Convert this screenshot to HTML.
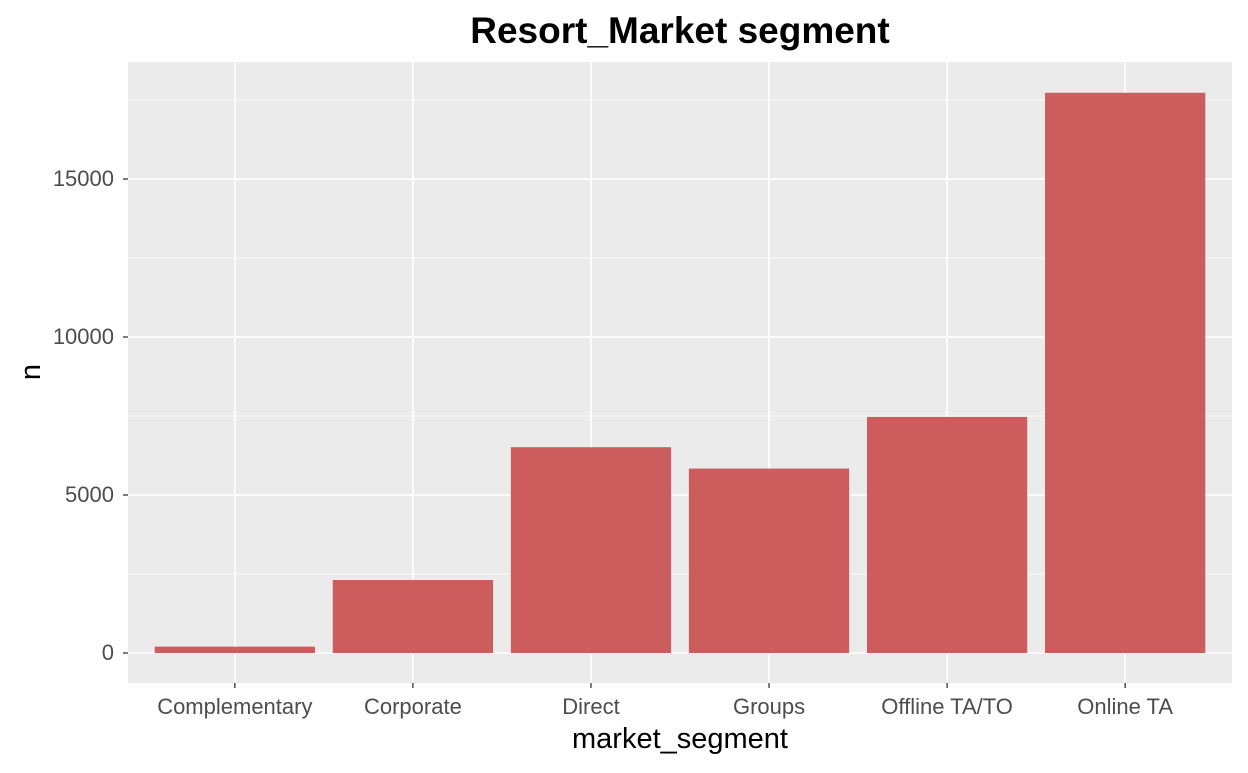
<!DOCTYPE html>
<html><head><meta charset="utf-8"><style>
body{margin:0;background:#fff;font-family:"Liberation Sans",Arial,sans-serif}
</style></head><body>
<svg id="chart" width="1248" height="768" xmlns="http://www.w3.org/2000/svg">
<rect x="0" y="0" width="1248" height="768" fill="#fff"/>
<rect id="panel" x="128" y="62" width="1104" height="621" fill="#EBEBEB"/>
<g id="grid"></g><g id="bars"></g><g id="axes"></g>
<text x="680" y="43" text-anchor="middle" font-size="37" font-weight="bold" fill="#000">Resort_Market segment</text>
<text x="680" y="748" text-anchor="middle" font-size="29" fill="#000">market_segment</text>
<text transform="translate(40,372) rotate(-90)" text-anchor="middle" font-size="29" fill="#000">n</text>
</svg>
<script>
const categories=["Complementary","Corporate","Direct","Groups","Offline TA/TO","Online TA"];
const values=[201,2309,6513,5836,7472,17729];
const yTicks=[0,5000,10000,15000];
const yMinor=[2500,7500,12500,17500];
const ns="http://www.w3.org/2000/svg";
const pL=128,pR=1232,pT=62,pB=683,yMin=-949,yMax=18703;
const y=v=>pB-(v-yMin)/(yMax-yMin)*(pB-pT);
const step=(pR-pL)/(categories.length+0.2);
const x=i=>pL+step*(0.6+i);
function mk(t,a,p){const e=document.createElementNS(ns,t);for(const k in a)e.setAttribute(k,a[k]);p.appendChild(e);return e;}
const g=document.getElementById('grid'),b=document.getElementById('bars'),ax=document.getElementById('axes');
yMinor.forEach(v=>{const l=mk('line',{x1:pL,x2:pR,y1:y(v),y2:y(v),stroke:'#fff','stroke-width':0.8},g);

});
yTicks.forEach(v=>{const l=mk('line',{x1:pL,x2:pR,y1:y(v),y2:y(v),stroke:'#fff','stroke-width':1.6},g);


const tk=mk('line',{x1:pL-5,x2:pL,y1:y(v),y2:y(v),stroke:'#333','stroke-width':1.3},ax);


const t=mk('text',{x:pL-14,y:y(v)+7,'text-anchor':'end','font-size':'22',fill:'#4D4D4D'},ax);t.textContent=v;

});
categories.forEach((c,i)=>{const l=mk('line',{x1:x(i),x2:x(i),y1:pT,y2:pB,stroke:'#fff','stroke-width':1.6},g);


const w=step*0.9;
const r=mk('rect',{x:x(i)-w/2,y:y(values[i]),width:w,height:y(0)-y(values[i]),fill:'#CD5C5C'},b);


const tk=mk('line',{x1:x(i),x2:x(i),y1:pB,y2:pB+5,stroke:'#333','stroke-width':1.3},ax);


const t=mk('text',{x:x(i),y:pB+31,'text-anchor':'middle','font-size':'22',fill:'#4D4D4D'},ax);t.textContent=c;

});
</script>
</body></html>
